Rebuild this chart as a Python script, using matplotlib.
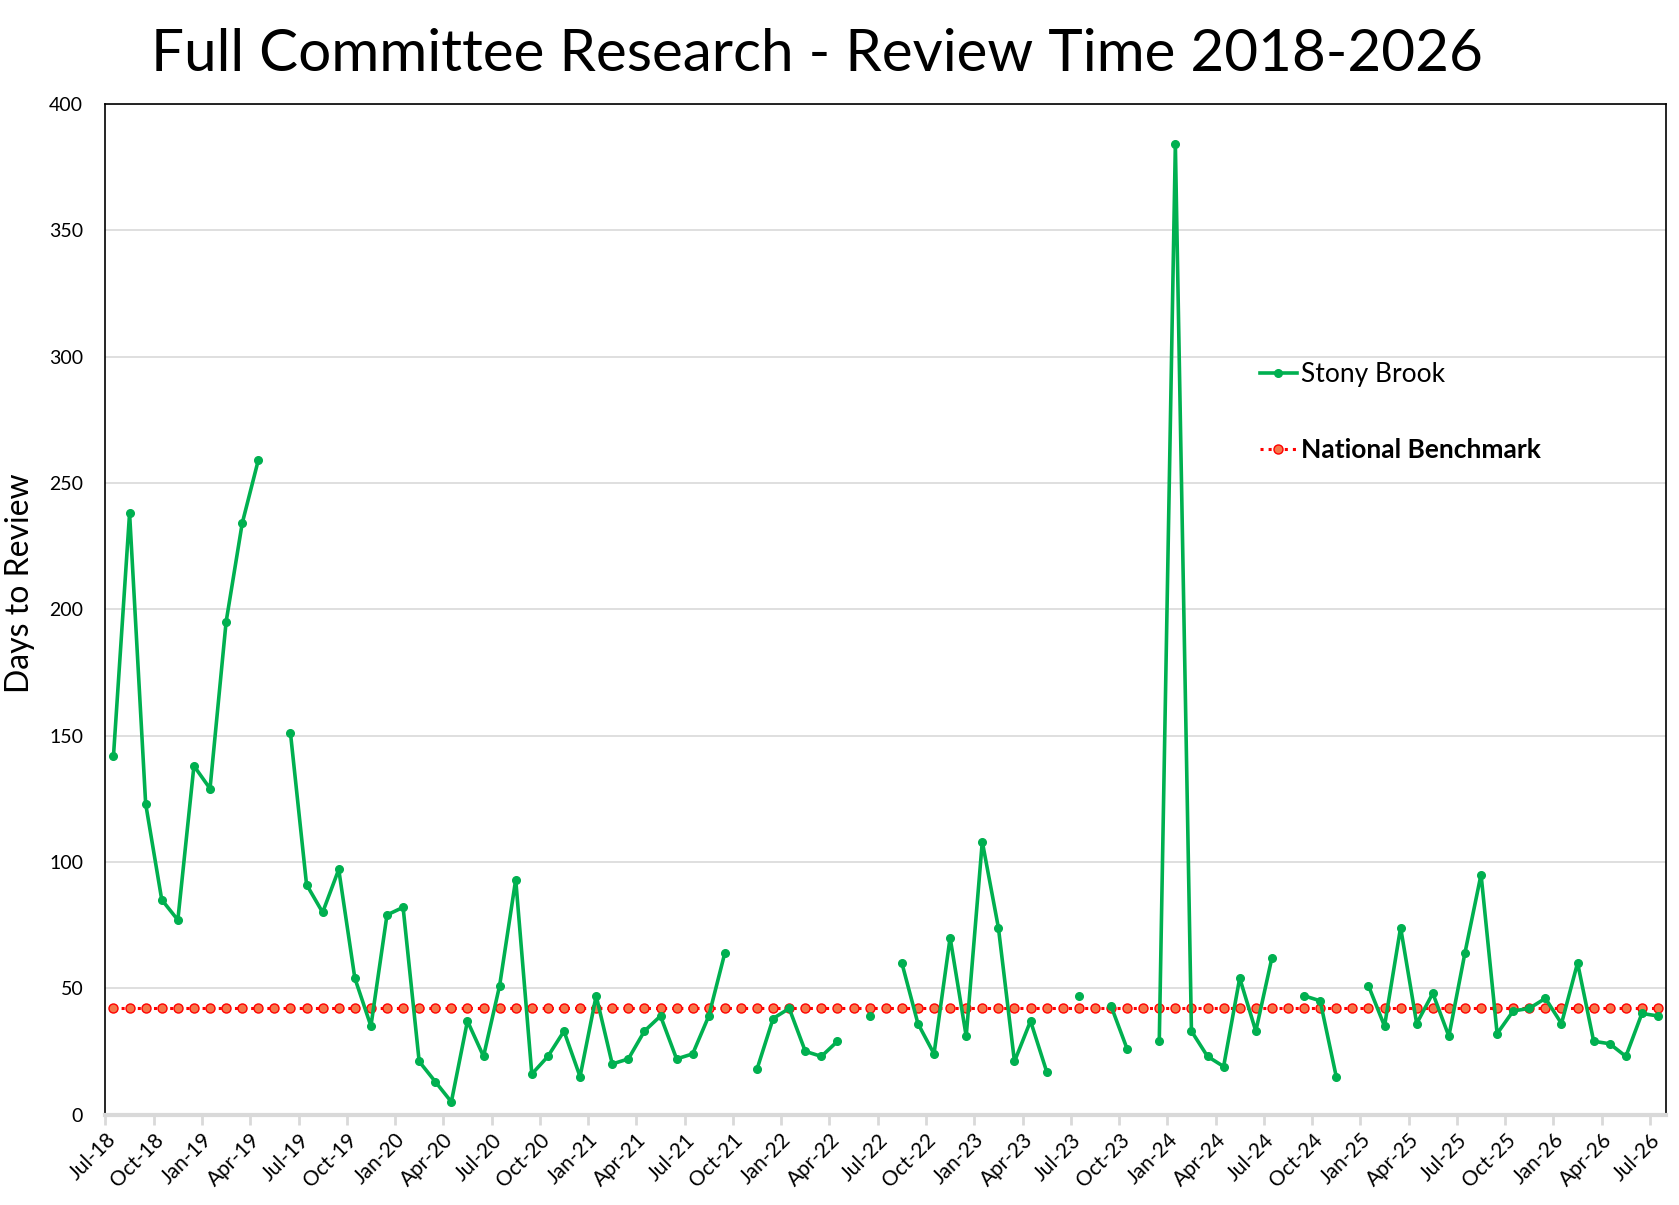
import numpy as np
import matplotlib
matplotlib.use('Agg')
import matplotlib.pyplot as plt

plt.rcParams['font.family'] = ['Lato', 'DejaVu Sans']

# monthly review times, Jul-18 .. Jul-26 (None = no data that month)
stony_brook = [142, 238, 123, 85, 77, 138, 129, 195, 234, 259, None, 151,
               91, 80, 97, 54, 35, 79, 82, 21, 13, 5, 37, 23,
               51, 93, 16, 23, 33, 15, 47, 20, 22, 33, 39, 22,
               24, 39, 64, None, 18, 38, 42, 25, 23, 29, None, 39,
               None, 60, 36, 24, 70, 31, 108, 74, 21, 37, 17, None,
               47, None, 43, 26, None, 29, 384, 33, 23, 19, 54, 33,
               62, None, 47, 45, 15, None, 51, 35, 74, 36, 48, 31,
               64, 95, 32, 41, 42, 46, 36, 60, 29, 28, 23, 40,
               39]
benchmark_value = 42

tick_labels = ['Jul-18', 'Oct-18', 'Jan-19', 'Apr-19', 'Jul-19', 'Oct-19',
               'Jan-20', 'Apr-20', 'Jul-20', 'Oct-20', 'Jan-21', 'Apr-21',
               'Jul-21', 'Oct-21', 'Jan-22', 'Apr-22', 'Jul-22', 'Oct-22',
               'Jan-23', 'Apr-23', 'Jul-23', 'Oct-23', 'Jan-24', 'Apr-24',
               'Jul-24', 'Oct-24', 'Jan-25', 'Apr-25', 'Jul-25', 'Oct-25',
               'Jan-26', 'Apr-26', 'Jul-26']

y = np.array([np.nan if v is None else v for v in stony_brook], dtype=float)
x = np.arange(len(y))
bench = np.full(len(y), benchmark_value, dtype=float)

fig = plt.figure(figsize=(16.79, 12.05), dpi=100)
ax = fig.add_axes([0.0628, 0.0751, 0.9295, 0.8386])

ax.plot(x, bench, linestyle=':', color='#ff0000', linewidth=2.2,
        marker='o', markersize=6.5, markerfacecolor='#f4784a',
        markeredgecolor='#ff0000', markeredgewidth=1.0,
        label='National Benchmark', zorder=2)
ax.plot(x, y, color='#00b050', linewidth=2.6, marker='o', markersize=5.5,
        label='Stony Brook', zorder=3)

ax.set_xlim(-0.5, len(y) - 0.5)
ax.set_ylim(0, 400)
ax.set_yticks(np.arange(0, 401, 50))
ax.yaxis.grid(True, color='#d9d9d9', linewidth=1.2)
ax.set_axisbelow(True)

ax.set_xticks(np.arange(0, len(y), 3) - 0.5)
ax.set_xticklabels(tick_labels, rotation=45, ha='right', rotation_mode='anchor')

ax.tick_params(axis='y', length=0, pad=16, labelsize=14)
ax.tick_params(axis='x', length=7, width=2, color='#d9d9d9', pad=4, labelsize=15)

for side in ['left', 'top', 'right']:
    ax.spines[side].set_color('black')
    ax.spines[side].set_linewidth(1.2)
ax.spines['bottom'].set_color('#d9d9d9')
ax.spines['bottom'].set_linewidth(3)

handles, labels = ax.get_legend_handles_labels()
leg = ax.legend(handles[::-1], labels[::-1], loc='center left',
                bbox_to_anchor=(0.7245, 0.695), frameon=False, fontsize=19,
                labelspacing=1.95, handlelength=1.4, handletextpad=0.15)
for t in leg.get_texts():
    if t.get_text() == 'National Benchmark':
        t.set_fontweight('bold')

fig.text(0.4866, 0.955, 'Full Committee Research - Review Time 2018-2026',
         ha='center', va='center', fontsize=42)
fig.text(0.012, 0.516, 'Days to Review', rotation=90, ha='center',
         va='center', fontsize=23)

fig.savefig('out.png', dpi=100)
